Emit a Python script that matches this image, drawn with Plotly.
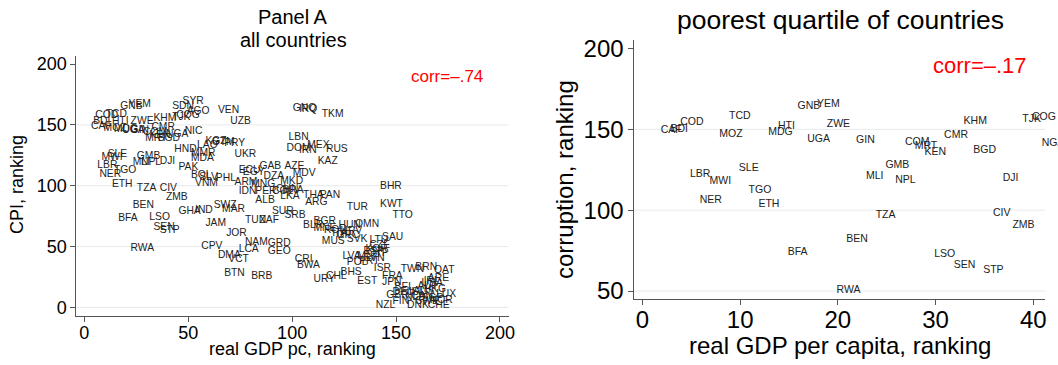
import plotly.graph_objects as go

FONT = "Liberation Sans, Arial, Helvetica, sans-serif"
LABEL_COLOR = "#222222"
AXIS_COLOR = "#555555"
GRID_COLOR = "#e6eaec"

# ---------------- Panel A: all countries ----------------
a_codes = ["CAF", "BDI", "COD", "LBR", "NER", "MWI", "MOZ", "TCD", "SLE", "TGO",
           "ETH", "MDG", "HTI", "BFA", "GNB", "UGA", "YEM", "ZWE", "RWA", "BEN",
           "GIN", "MLI", "TZA", "GMB", "NPL", "COM", "MRT", "KEN", "LSO", "CMR",
           "SEN", "KHM", "BGD", "STP", "CIV", "DJI", "ZMB", "TJK", "COG", "NGA",
           "SDN", "SYR", "AGO", "NIC", "HND", "PAK", "BOL", "SLV", "PHL", "VNM",
           "GHA", "IND", "SWZ", "MAR", "JAM", "TUN", "ZAF", "SUR", "SRB", "JOR",
           "CPV", "NAM", "GRD", "LCA", "DMA", "VCT", "GEO", "BTN", "BRB", "MMR",
           "MDA", "LAO", "KGZ", "GTM", "PRY", "UKR", "VEN", "UZB", "GNQ", "IRQ",
           "TKM", "LBN", "DOM", "IRN", "MEX", "RUS", "KAZ", "AZE", "MDV", "MKD",
           "ECU", "EGY", "GAB", "DZA", "ARM", "MNG", "IDN", "PER", "COL", "ALB",
           "LKA", "BRA", "CHN", "THA", "PAN", "ARG", "TUR", "BHR", "KWT", "TTO",
           "OMN", "BGR", "BLR", "MNE", "HUN", "ROU", "ITA", "GRC", "HRV", "MUS",
           "SVK", "SAU", "LTU", "CZE", "KOR", "ESP", "CYP", "SVN", "PRT", "MLT",
           "LVA", "POL", "ISR", "CRI", "BWA", "URY", "CHL", "BHS", "EST", "FRA",
           "JPN", "BEL", "TWN", "BRN", "QAT", "ARE", "GBR", "DEU", "LUX", "FIN",
           "DNK", "NZL", "CHE", "SWE", "NLD", "NOR", "SGP", "ISL", "AUS", "CAN",
           "AUT", "USA", "HKG", "IRL"]
a_gdp_rank = [1, 2, 3, 4, 5, 6, 7, 8, 9, 12,
              11, 12, 11, 14, 15, 16, 19, 20, 20, 21,
              20, 21, 23, 23, 25, 26, 27, 29, 29, 30,
              31, 31, 33, 34, 34, 34, 37, 40, 42, 37,
              40, 45, 47, 46, 41, 43, 49, 53, 61, 51,
              43, 51, 60, 64, 56, 75, 82, 88, 94, 66,
              54, 75, 86, 72, 62, 67, 86, 65, 78, 49,
              49, 52, 56, 59, 65, 70, 62, 68, 98, 101,
              112, 96, 95, 101, 105, 114, 110, 94, 98, 92,
              72, 74, 82, 84, 70, 78, 72, 80, 88, 80,
              92, 93, 90, 103, 111, 104, 124, 140, 140, 146,
              128, 108, 103, 108, 120, 113, 117, 119, 121, 112,
              124, 141, 135, 135, 133, 132, 134, 132, 130, 129,
              122, 124, 137, 99, 100, 108, 114, 121, 129, 141,
              141, 147, 150, 157, 166, 163, 143, 146, 167, 146,
              153, 138, 163, 157, 152, 164, 160, 154, 156, 155,
              158, 160, 161, 161]
a_cpi_rank = [148.5, 152.6, 157.6, 117.0, 109.6, 123.0, 147.2, 159.0, 125.8, 112.3,
              101.4, 146.0, 152.6, 73.2, 165.0, 145.5, 166.9, 152.6, 48.5, 83.6,
              145.2, 119.5, 97.9, 123.9, 119.2, 143.5, 139.0, 141.1, 74.0, 148.0,
              65.5, 155.4, 139.0, 63.6, 97.9, 119.7, 90.1, 156.4, 158.0, 142.3,
              165.0, 169.1, 160.9, 145.0, 130.0, 115.0, 108.8, 106.6, 106.1, 102.0,
              79.0, 80.0, 84.1, 80.6, 69.1, 71.8, 71.8, 78.6, 75.5, 60.9,
              50.4, 53.1, 52.6, 47.7, 43.0, 39.7, 46.3, 28.0, 25.2, 126.6,
              122.5, 133.5, 136.2, 136.0, 134.9, 125.8, 162.3, 152.6, 163.5, 163.0,
              159.0, 139.8, 130.7, 128.8, 132.9, 130.2, 119.7, 116.2, 109.9, 103.9,
              112.9, 111.0, 116.2, 107.4, 102.8, 101.2, 95.1, 95.0, 95.0, 88.2,
              91.0, 96.0, 97.0, 92.4, 92.4, 86.0, 82.2, 99.2, 84.7, 75.9,
              68.5, 70.4, 67.0, 65.0, 67.0, 63.0, 61.0, 59.0, 62.5, 54.0,
              55.9, 57.2, 55.0, 51.0, 48.0, 46.0, 44.0, 40.0, 38.0, 42.0,
              41.6, 36.7, 32.0, 39.5, 34.8, 23.0, 25.7, 28.5, 21.1, 25.2,
              20.2, 16.4, 31.2, 32.6, 30.1, 23.8, 10.1, 12.0, 10.9, 5.2,
              1.9, 1.3, 1.9, 4.5, 8.0, 6.0, 7.0, 12.0, 13.0, 9.0,
              17.0, 19.5, 15.0, 21.0]

# ---------------- Panel B: poorest quartile ----------------
b_codes = ["CAF", "BDI", "COD", "LBR", "NER", "MWI", "MOZ", "TCD", "SLE", "TGO",
           "ETH", "MDG", "HTI", "BFA", "GNB", "UGA", "YEM", "ZWE", "RWA", "BEN",
           "GIN", "MLI", "TZA", "GMB", "NPL", "COM", "MRT", "KEN", "LSO", "CMR",
           "SEN", "KHM", "BGD", "STP", "CIV", "DJI", "ZMB", "TJK", "COG", "NGA"]
b_gdp_rank = list(range(1, 41))
b_corr_rank = [149.6, 150.0, 154.3, 122.4, 106.3, 117.6, 147.1, 158.2, 126.1, 112.0,
               103.8, 148.1, 151.6, 74.0, 164.4, 143.8, 165.6, 153.1, 50.2, 82.2,
               143.4, 121.1, 96.6, 127.7, 118.2, 142.0, 139.2, 135.8, 72.9, 146.5,
               65.9, 155.1, 137.2, 63.0, 98.0, 119.7, 90.8, 156.4, 157.4, 141.5]

# axes
a_xticks = [0, 50, 100, 150, 200]
a_yticks = [0, 50, 100, 150, 200]
a_grid = [0, 50, 100, 150]
b_xticks = [0, 10, 20, 30, 40]
b_yticks = [50, 100, 150, 200]
b_grid = [50, 100, 150]

W, H = 1058, 365


def px_x(p):
    return p / W


def px_y(p):
    return 1 - p / H


fig = go.Figure()

fig.add_trace(go.Scatter(
    x=a_gdp_rank, y=a_cpi_rank, text=a_codes, mode="markers+text",
    textposition="middle right",
    marker=dict(size=6, color="rgba(0,0,0,0)"),
    textfont=dict(family=FONT, size=10.3, color=LABEL_COLOR),
    cliponaxis=False, hoverinfo="skip", xaxis="x", yaxis="y"))

fig.add_trace(go.Scatter(
    x=b_gdp_rank, y=b_corr_rank, text=b_codes, mode="markers+text",
    textposition="middle right",
    marker=dict(size=12, color="rgba(0,0,0,0)"),
    textfont=dict(family=FONT, size=10.5, color=LABEL_COLOR),
    cliponaxis=False, hoverinfo="skip", xaxis="x2", yaxis="y2"))

axis_common = dict(showline=True, linecolor=AXIS_COLOR, linewidth=1,
                   ticks="outside", ticklen=5, tickcolor=AXIS_COLOR, tickwidth=1,
                   showgrid=False, zeroline=False, tickmode="array",
                   automargin=False)

fig.update_layout(
    template="none",
    width=W, height=H, margin=dict(l=0, r=0, t=0, b=0, pad=0, autoexpand=False),
    paper_bgcolor="white", plot_bgcolor="white", showlegend=False,
    font=dict(family=FONT, color="black"),
    xaxis=dict(domain=[px_x(76.4), px_x(508.5)], range=[-3.8, 204.1],
               tickvals=a_xticks, anchor="y", ticklabelstandoff=-4,
               tickfont=dict(size=18, color="black"), **axis_common),
    yaxis=dict(domain=[px_y(315.5), px_y(55.5)], range=[-6.7, 207.1],
               tickvals=a_yticks, anchor="x",
               tickfont=dict(size=18, color="black"), **axis_common),
    xaxis2=dict(domain=[px_x(634.4), px_x(1045)], range=[-0.82, 41.2],
                tickvals=b_xticks, anchor="y2", ticklabelstandoff=-6,
                tickfont=dict(size=24, color="black"), **axis_common),
    yaxis2=dict(domain=[px_y(298.8), px_y(39.6)], range=[45.2, 205.5],
                tickvals=b_yticks, anchor="x2",
                tickfont=dict(size=24, color="black"), **axis_common),
)

shapes = []
for v in a_grid:
    shapes.append(dict(type="line", xref="x domain", yref="y", x0=0, x1=1, y0=v, y1=v,
                       line=dict(color=GRID_COLOR, width=1), layer="below"))
for v in b_grid:
    shapes.append(dict(type="line", xref="x2 domain", yref="y2", x0=0, x1=1, y0=v, y1=v,
                       line=dict(color=GRID_COLOR, width=1), layer="below"))
fig.update_layout(shapes=shapes)


def ann(text, cx, cy, size, color="black", angle=0):
    return dict(text=text, x=px_x(cx), y=px_y(cy), xref="paper", yref="paper",
                xanchor="center", yanchor="middle", showarrow=False, textangle=angle,
                font=dict(family=FONT, size=size, color=color))


fig.update_layout(annotations=[
    ann("Panel A", 293, 17, 20),
    ann("all countries", 293, 40, 20),
    ann("real GDP pc, ranking", 292, 349, 18),
    ann("CPI, ranking", 17, 185, 18, angle=-90),
    ann("corr=–.74", 447, 76, 17, color="#ff0000"),
    ann("poorest quartile of countries", 840, 20, 26.5),
    ann("real GDP per capita, ranking", 840, 345, 24),
    ann("corruption, ranking", 564, 180, 24, angle=-90),
    ann("corr=–.17", 980, 65, 22, color="#ff0000"),
])

fig.write_html("out.html")
